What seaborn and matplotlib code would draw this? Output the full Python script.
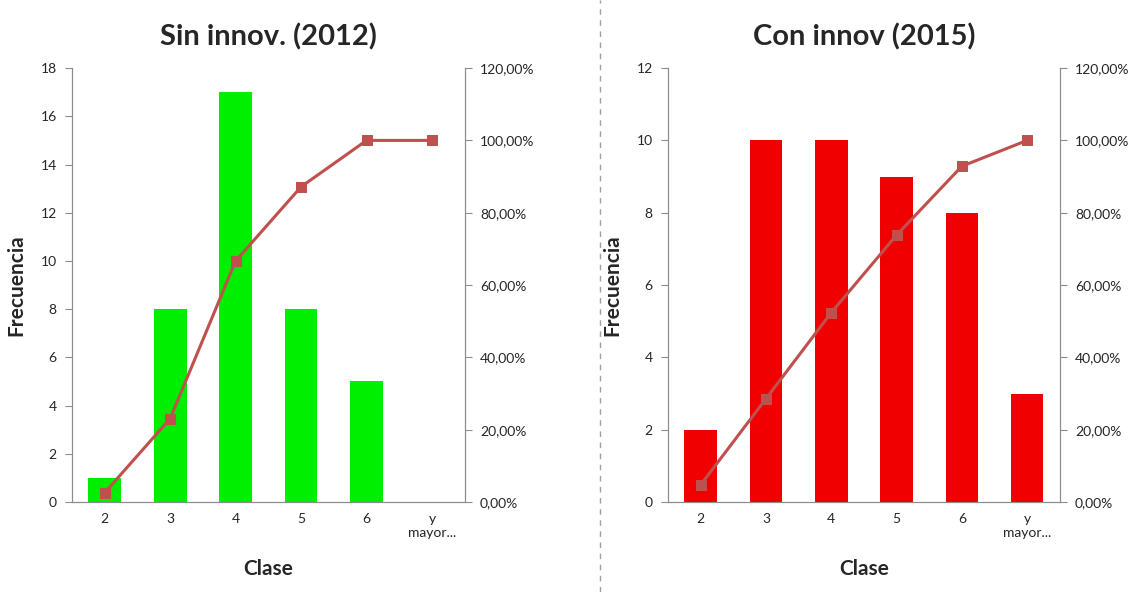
import numpy as np
import matplotlib
matplotlib.use("Agg")
import matplotlib.pyplot as plt
from matplotlib.ticker import FuncFormatter, FixedLocator
from matplotlib.lines import Line2D
import seaborn as sns

# data
clases = ["2", "3", "4", "5", "6", "y\nmayor..."]
freq_2012 = [1, 8, 17, 8, 5, 0]
freq_2015 = [2, 10, 10, 9, 8, 3]
cum_2012 = [2.56, 23.08, 66.67, 87.18, 100.0, 100.0]
cum_2015 = [4.76, 28.57, 52.38, 73.81, 92.86, 100.0]

sns.set_style("white")
plt.rcParams['font.family'] = ['Lato', 'DejaVu Sans']

GREY = "#8c8c8c"
LINE = "#C0504D"


def pct_fmt(v, pos):
    return f"{v:.2f}%".replace(".", ",")


def draw_panel(fig, rect, freq, cum, color, ymax, ystep, title):
    ax = fig.add_axes(rect)
    sns.barplot(x=clases, y=freq, color=color, width=0.5, saturation=1,
                linewidth=0, ax=ax)
    ax.set_ylim(0, ymax)
    ax.set_yticks(np.arange(0, ymax + 1, ystep))
    ax.set_xlim(-0.5, len(clases) - 0.5)
    ax.set_title(title, fontsize=21, fontweight="bold", pad=16)
    ax.set_ylabel("Frecuencia", fontsize=15, fontweight="bold", labelpad=10)
    ax.set_xlabel("Clase", fontsize=15, fontweight="bold", labelpad=14)
    ax.tick_params(axis="x", which="major", length=0, labelsize=10, pad=8)
    ax.xaxis.set_minor_locator(FixedLocator(np.arange(-0.5, len(clases), 1)))
    ax.tick_params(axis="x", which="minor", length=5, color=GREY, width=1)
    ax.tick_params(axis="y", length=5, color=GREY, labelsize=10, left=True, pad=6)
    for s in ["left", "bottom", "right"]:
        ax.spines[s].set_color(GREY)
    ax.spines["top"].set_visible(False)

    ax2 = ax.twinx()
    sns.lineplot(x=np.arange(len(clases)), y=cum, color=LINE, lw=2.2,
                 marker="s", markersize=7.5, markeredgecolor=LINE, ax=ax2)
    ax2.set_ylim(0, 120)
    ax2.set_yticks(np.arange(0, 121, 20))
    ax2.yaxis.set_major_formatter(FuncFormatter(pct_fmt))
    ax2.tick_params(axis="y", length=5, color=GREY, labelsize=10, right=True, pad=6)
    ax2.set_ylabel("")
    for s in ["left", "bottom", "right"]:
        ax2.spines[s].set_color(GREY)
    ax2.spines["top"].set_visible(False)
    return ax


fig = plt.figure(figsize=(11.42, 5.92), dpi=100)
draw_panel(fig, [0.063, 0.152, 0.344, 0.733], freq_2012, cum_2012,
           "#00EE00", 18, 2, "Sin innov. (2012)")
draw_panel(fig, [0.585, 0.152, 0.343, 0.733], freq_2015, cum_2015,
           "#F00000", 12, 2, "Con innov (2015)")

# dashed separator between the two charts
fig.add_artist(Line2D([0.525, 0.525], [0.0, 1.0], color="#a0a0a0",
                      lw=1, ls=(0, (4, 4)), transform=fig.transFigure))

fig.savefig("out.png", dpi=100, facecolor="white")
